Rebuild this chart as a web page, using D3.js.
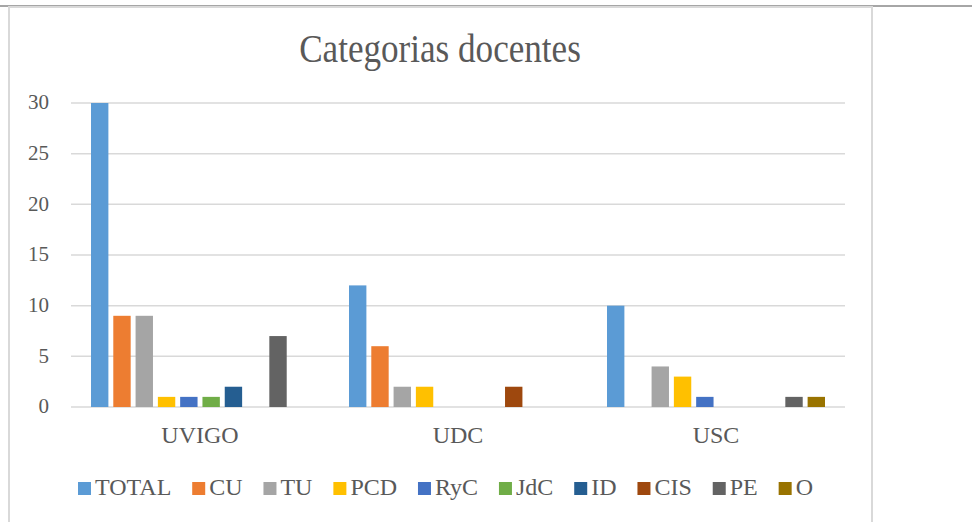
<html>
<head>
<script src="https://d3js.org/d3.v7.min.js"></script>
<style>
body { margin: 0; background: #fff; }
#wrap { position: relative; width: 972px; height: 522px; overflow: hidden; }
#wrap svg { position: absolute; left: 0; top: 0; }
.lbl { position: absolute; white-space: nowrap; line-height: 1; color: #595959;
       font-family: 'Liberation Serif', serif; }
</style>
</head>
<body>
<div id="wrap"><svg id="chart" width="972" height="522"></svg></div>
<script>
// data
var categories = ["UVIGO", "UDC", "USC"];
var seriesNames = ["TOTAL", "CU", "TU", "PCD", "RyC", "JdC", "ID", "CIS", "PE", "O"];
var total = [30, 12, 10];
var cu    = [9, 6, 0];
var tu    = [9, 2, 4];
var pcd   = [1, 2, 3];
var ryc   = [1, 0, 1];
var jdc   = [1, 0, 0];
var id    = [2, 0, 0];
var cis   = [0, 2, 0];
var pe    = [7, 0, 1];
var o     = [0, 0, 1];
var yTicks = [0, 5, 10, 15, 20, 25, 30];
var colors = ["#5B9BD5", "#ED7D31", "#A5A5A5", "#FFC000", "#4472C4",
              "#70AD47", "#255E91", "#9E480E", "#636363", "#997300"];

var seriesValues = [total, cu, tu, pcd, ryc, jdc, id, cis, pe, o];

var wrap = d3.select("#wrap");
var svg = d3.select("#chart");

// html labels, placed by baseline
function label(txt, x, baseline, size, anchor, sx) {
    var shift = anchor == "middle" ? "-50%" : (anchor == "end" ? "-100%" : "0");
    return wrap.append("div").attr("class", "lbl")
        .style("left", x + "px")
        .style("top", (baseline - 0.8375 * size) + "px")
        .style("font-size", size + "px")
        .style("transform", "translateX(" + shift + ")" + (sx ? " scaleX(" + sx + ")" : ""))
        .text(txt);
}

// frame
svg.append("rect").attr("x", 0).attr("y", 5).attr("width", 972).attr("height", 2).attr("fill", "#a6a6a6");
svg.append("rect").attr("x", 9).attr("y", 7).attr("width", 863).attr("height", 530)
   .attr("fill", "none").attr("stroke", "#d9d9d9").attr("stroke-width", 2);

label("Categorias docentes", 440, 62, 39, "middle", 0.9);

var plotLeft = 71, plotRight = 845, plotTop = 103, plotBottom = 407;

var y = d3.scaleLinear().domain([0, 30]).range([plotBottom, plotTop]);
var x0 = d3.scaleBand().domain(categories).range([plotLeft, plotRight]);
var x1 = d3.scaleBand().domain(seriesNames)
    .range([20, x0.bandwidth() - 20]).paddingInner(0.22);

// grid
svg.append("g").selectAll("line")
   .data(yTicks).enter().append("line")
   .attr("x1", plotLeft).attr("x2", plotRight)
   .attr("y1", function(d) { return y(d); })
   .attr("y2", function(d) { return y(d); })
   .attr("stroke", "#d9d9d9").attr("stroke-width", 1.5);

yTicks.forEach(function(t) { label(t, 49, y(t) + 7, 21, "end"); });

// bars
var groups = svg.append("g").selectAll("g")
   .data(categories).enter().append("g")
   .attr("transform", function(d) { return "translate(" + x0(d) + ",0)"; });

groups.selectAll("rect")
   .data(function(c, ci) {
       return seriesNames.map(function(s, si) { return {s: s, v: seriesValues[si][ci], i: si}; });
   })
   .enter().append("rect")
   .attr("x", function(d) { return x1(d.s); })
   .attr("width", x1.bandwidth())
   .attr("y", function(d) { return y(d.v); })
   .attr("height", function(d) { return plotBottom - y(d.v); })
   .attr("fill", function(d) { return colors[d.i]; });

categories.forEach(function(c) {
    label(c, x0(c) + x0.bandwidth() / 2, 443, 24, "middle");
});

// legend: measure, then spread between x=78 and x=813 like the original
var items = seriesNames.map(function(s) {
    var l = label(s, 0, 495, 24, "start");
    return { el: l, w: l.node().getBoundingClientRect().width };
});
var used = d3.sum(items, function(d) { return 17 + d.w; });
var gap = (813 - 78 - used) / (items.length - 1);
var pos = 78;
items.forEach(function(it, i) {
    svg.append("rect").attr("x", pos).attr("y", 482).attr("width", 13).attr("height", 13).attr("fill", colors[i]);
    it.el.style("left", (pos + 17) + "px");
    pos += 17 + it.w + gap;
});
</script>
</body>
</html>
